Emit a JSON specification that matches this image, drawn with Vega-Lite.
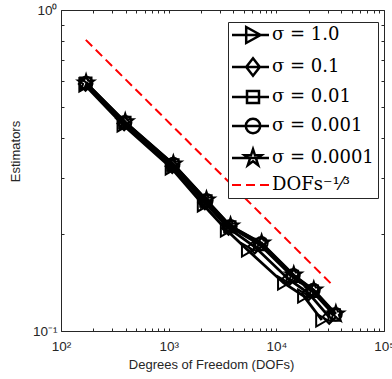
{
  "$schema": "https://vega.github.io/schema/vega-lite/v6.json",
  "width": 323,
  "height": 321,
  "autosize": {"type": "none"},
  "padding": {"left": 61, "top": 10, "right": 8, "bottom": 48},
  "background": "white",
  "config": {
    "view": {"stroke": null},
    "axis": {
      "grid": false,
      "domainColor": "#262626",
      "domainWidth": 1,
      "tickColor": "#262626",
      "tickWidth": 1,
      "labelColor": "#262626",
      "titleColor": "#262626",
      "labelFont": "Liberation Sans",
      "titleFont": "Liberation Sans",
      "labelFontSize": 13.5,
      "titleFontSize": 13,
      "titleFontWeight": "normal",
      "labelFlush": false,
      "labelOverlap": false,
      "labelBound": false
    }
  },
  "data": {
    "values": [
      {"series": "σ = 1.0", "dofs": 167, "est": 0.584},
      {"series": "σ = 1.0", "dofs": 378, "est": 0.438},
      {"series": "σ = 1.0", "dofs": 1059, "est": 0.322},
      {"series": "σ = 1.0", "dofs": 2104, "est": 0.247},
      {"series": "σ = 1.0", "dofs": 3445, "est": 0.2064},
      {"series": "σ = 1.0", "dofs": 5408, "est": 0.1788},
      {"series": "σ = 1.0", "dofs": 11706, "est": 0.1411},
      {"series": "σ = 1.0", "dofs": 17970, "est": 0.1285},
      {"series": "σ = 1.0", "dofs": 26450, "est": 0.1082},
      {"series": "σ = 0.1", "dofs": 169, "est": 0.588},
      {"series": "σ = 0.1", "dofs": 386, "est": 0.443},
      {"series": "σ = 0.1", "dofs": 1080, "est": 0.326},
      {"series": "σ = 0.1", "dofs": 2170, "est": 0.251},
      {"series": "σ = 0.1", "dofs": 3600, "est": 0.209},
      {"series": "σ = 0.1", "dofs": 6300, "est": 0.183},
      {"series": "σ = 0.1", "dofs": 13000, "est": 0.145},
      {"series": "σ = 0.1", "dofs": 20000, "est": 0.131},
      {"series": "σ = 0.1", "dofs": 31000, "est": 0.1105},
      {"series": "σ = 0.01", "dofs": 170, "est": 0.591},
      {"series": "σ = 0.01", "dofs": 392, "est": 0.446},
      {"series": "σ = 0.01", "dofs": 1095, "est": 0.329},
      {"series": "σ = 0.01", "dofs": 2220, "est": 0.254},
      {"series": "σ = 0.01", "dofs": 3700, "est": 0.211},
      {"series": "σ = 0.01", "dofs": 7000, "est": 0.186},
      {"series": "σ = 0.01", "dofs": 14100, "est": 0.148},
      {"series": "σ = 0.01", "dofs": 21600, "est": 0.133},
      {"series": "σ = 0.01", "dofs": 34500, "est": 0.1122},
      {"series": "σ = 0.001", "dofs": 171, "est": 0.592},
      {"series": "σ = 0.001", "dofs": 394, "est": 0.447},
      {"series": "σ = 0.001", "dofs": 1102, "est": 0.331},
      {"series": "σ = 0.001", "dofs": 2240, "est": 0.2555},
      {"series": "σ = 0.001", "dofs": 3740, "est": 0.212},
      {"series": "σ = 0.001", "dofs": 7250, "est": 0.1875},
      {"series": "σ = 0.001", "dofs": 14400, "est": 0.149},
      {"series": "σ = 0.001", "dofs": 22100, "est": 0.134},
      {"series": "σ = 0.001", "dofs": 35400, "est": 0.1128},
      {"series": "σ = 0.0001", "dofs": 171, "est": 0.5925},
      {"series": "σ = 0.0001", "dofs": 395, "est": 0.448},
      {"series": "σ = 0.0001", "dofs": 1105, "est": 0.3313},
      {"series": "σ = 0.0001", "dofs": 2244, "est": 0.2559},
      {"series": "σ = 0.0001", "dofs": 3754, "est": 0.2124},
      {"series": "σ = 0.0001", "dofs": 7301, "est": 0.1879},
      {"series": "σ = 0.0001", "dofs": 14510, "est": 0.1494},
      {"series": "σ = 0.0001", "dofs": 22280, "est": 0.1341},
      {"series": "σ = 0.0001", "dofs": 35720, "est": 0.113},
      {"series": "DOFs⁻¹⁄³", "dofs": 170, "est": 0.807},
      {"series": "DOFs⁻¹⁄³", "dofs": 34000, "est": 0.138}
    ]
  },
  "layer": [
    {
      "transform": [{"filter": "datum.series != 'DOFs⁻¹⁄³'"}],
      "mark": {"type": "line", "strokeWidth": 2.8},
      "encoding": {
        "x": {
          "field": "dofs", "type": "quantitative",
          "scale": {"type": "log", "domain": [100, 100000], "nice": false},
          "axis": {
            "orient": "bottom",
            "title": "Degrees of Freedom (DOFs)",
            "titleX": 150,
            "titlePadding": 6,
            "values": [100,200,300,400,500,600,700,800,900,1000,2000,3000,4000,5000,6000,7000,8000,9000,10000,20000,30000,40000,50000,60000,70000,80000,90000,100000],
            "labelExpr": "datum.value == 100 ? '10²' : datum.value == 1000 ? '10³' : datum.value == 10000 ? '10⁴' : datum.value == 100000 ? '10⁵' : ''",
            "tickSize": -3,
            "labelPadding": 11
          }
        },
        "y": {
          "field": "est", "type": "quantitative",
          "scale": {"type": "log", "domain": [0.1, 1], "nice": false},
          "axis": {
            "orient": "left",
            "title": "Estimators",
            "titleY": 141,
            "titlePadding": 10,
            "values": [0.1,0.2,0.3,0.4,0.5,0.6,0.7,0.8,0.9,1],
            "labelExpr": "datum.value == 0.1 ? '10⁻¹' : datum.value == 1 ? '10⁰' : ''",
            "tickSize": -3,
            "labelPadding": 7
          }
        },
        "detail": {"field": "series"},
        "color": {
          "field": "series", "type": "nominal",
          "scale": {
            "domain": ["σ = 1.0", "σ = 0.1", "σ = 0.01", "σ = 0.001", "σ = 0.0001", "DOFs⁻¹⁄³"],
            "range": ["#000000", "#000000", "#000000", "#000000", "#000000", "#ff0000"]
          },
          "legend": {
            "title": null,
            "orient": "none",
            "legendX": 167,
            "legendY": 12,
            "padding": 4,
            "rowPadding": 5,
            "symbolSize": 256,
            "labelOffset": 22,
            "labelFont": "DejaVu Serif",
            "labelFontSize": 18,
            "labelColor": "#000000",
            "strokeColor": "#262626",
            "fillColor": "#ffffff",
            "labelLimit": 300,
            "encode": {
              "symbols": {
                "update": {
                  "shape": {"signal": "datum.index == 0 ? 'M-1.125,0H3.5M0.65,-1L2.45,0L0.65,1Z' : datum.index == 1 ? 'M-1.125,0H3.5M1.5,-1.1L2.35,0L1.5,1.1L0.65,0Z' : datum.index == 2 ? 'M-1.125,0H3.5M0.75,-0.75H2.25V0.75H0.75Z' : datum.index == 3 ? 'M-1.125,0H3.5M2.4,0A0.9,0.9,0,1,1,0.6,0A0.9,0.9,0,1,1,2.4,0Z' : datum.index == 4 ? 'M-1.125,0H3.5M1.5,-1.1L1.748,-0.34L2.546,-0.34L1.899,0.13L2.147,0.89L1.5,0.42L0.853,0.89L1.101,0.13L0.454,-0.34L1.252,-0.34Z' : 'M-1.125,0H3.5'"},
                  "strokeDash": {"signal": "datum.index == 5 ? [9,5] : null"},
                  "fill": {"value": "transparent"},
                  "strokeWidth": {"signal": "datum.index == 5 ? 2 : 2.5"},
                  "opacity": {"value": 1}
                }
              }
            }
          }
        }
      }
    },
    {
      "transform": [{"filter": "datum.series == 'σ = 1.0'"}],
      "mark": {"type": "point", "shape": "triangle-right", "filled": false, "color": "#000000", "strokeWidth": 2, "size": 170, "opacity": 1},
      "encoding": {
        "x": {
          "field": "dofs", "type": "quantitative",
          "axis": {
            "orient": "top", "title": null, "labels": false,
            "values": [100,200,300,400,500,600,700,800,900,1000,2000,3000,4000,5000,6000,7000,8000,9000,10000,20000,30000,40000,50000,60000,70000,80000,90000,100000],
            "tickSize": -3
          }
        },
        "y": {
          "field": "est", "type": "quantitative",
          "axis": {
            "orient": "right", "title": null, "labels": false,
            "values": [0.1,0.2,0.3,0.4,0.5,0.6,0.7,0.8,0.9,1],
            "tickSize": -3
          }
        }
      }
    },
    {
      "transform": [{"filter": "datum.series == 'σ = 0.1'"}],
      "mark": {"type": "point", "shape": "diamond", "filled": false, "color": "#000000", "strokeWidth": 2, "size": 180, "opacity": 1},
      "encoding": {
        "x": {"field": "dofs", "type": "quantitative", "axis": null},
        "y": {"field": "est", "type": "quantitative", "axis": null}
      }
    },
    {
      "transform": [{"filter": "datum.series == 'σ = 0.01'"}],
      "mark": {"type": "point", "shape": "square", "filled": false, "color": "#000000", "strokeWidth": 2, "size": 130, "opacity": 1},
      "encoding": {
        "x": {"field": "dofs", "type": "quantitative", "axis": null},
        "y": {"field": "est", "type": "quantitative", "axis": null}
      }
    },
    {
      "transform": [{"filter": "datum.series == 'σ = 0.001'"}],
      "mark": {"type": "point", "shape": "circle", "filled": false, "color": "#000000", "strokeWidth": 2, "size": 160, "opacity": 1},
      "encoding": {
        "x": {"field": "dofs", "type": "quantitative", "axis": null},
        "y": {"field": "est", "type": "quantitative", "axis": null}
      }
    },
    {
      "transform": [{"filter": "datum.series == 'σ = 0.0001'"}],
      "mark": {"type": "point", "shape": "M0,-1L0.225,-0.309L0.951,-0.309L0.363,0.118L0.588,0.809L0,0.382L-0.588,0.809L-0.363,0.118L-0.951,-0.309L-0.225,-0.309Z", "filled": false, "color": "#000000", "strokeWidth": 2, "size": 280, "opacity": 1},
      "encoding": {
        "x": {"field": "dofs", "type": "quantitative", "axis": null},
        "y": {"field": "est", "type": "quantitative", "axis": null}
      }
    },
    {
      "transform": [{"filter": "datum.series == 'DOFs⁻¹⁄³'"}],
      "mark": {"type": "line", "strokeWidth": 2, "strokeDash": [9, 5]},
      "encoding": {
        "x": {"field": "dofs", "type": "quantitative", "axis": null},
        "y": {"field": "est", "type": "quantitative", "axis": null},
        "color": {"field": "series", "type": "nominal"}
      }
    }
  ],
  "resolve": {"axis": {"x": "independent", "y": "independent"}}
}
